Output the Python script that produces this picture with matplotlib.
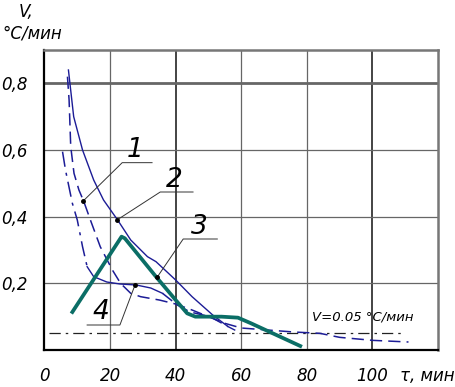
import matplotlib.pyplot as plt

# curve 1 (dashed)
c1_t = [7, 7.5, 8, 9, 10.5, 12, 14, 17, 20.7, 23.2, 26.3, 29.3, 35, 40, 45, 50, 55, 60, 68, 76, 84, 90, 100, 111]
c1_v = [0.82, 0.75, 0.61, 0.53, 0.48, 0.445, 0.39, 0.31, 0.24, 0.2, 0.17, 0.16, 0.15, 0.138, 0.12, 0.1, 0.08, 0.066, 0.06, 0.054, 0.05, 0.038, 0.029, 0.024]

# curve 2 (solid thin)
c2_t = [7.3, 8.9, 11.6, 15, 18, 22.3, 26.3, 31.4, 34, 40, 45, 51.3, 56, 58]
c2_v = [0.84, 0.70, 0.6, 0.51, 0.45, 0.39, 0.33, 0.28, 0.265, 0.21, 0.16, 0.105, 0.07, 0.06]

# curve 3 (thick)
c3_t = [8.5, 23.5, 24.5, 34, 40, 43.5, 46, 54, 59, 63, 78]
c3_v = [0.114, 0.34, 0.335, 0.22, 0.15, 0.11, 0.1, 0.1, 0.097, 0.08, 0.012]

# curve 4
c4_t = [5.5, 6.4, 8.5, 10, 11.6, 13, 15, 19, 23, 28, 32.4, 36, 40.5, 44.4, 50.5, 56]
c4_v = [0.595, 0.54, 0.44, 0.39, 0.31, 0.25, 0.22, 0.204, 0.198, 0.195, 0.186, 0.17, 0.135, 0.114, 0.1, 0.07]

v_limit = 0.05

blue = '#1c1c96'
teal = '#0b6e66'

fig = plt.figure(figsize=(4.55, 3.87), dpi=100)
ax = fig.add_axes([0.0978, 0.0956, 0.8648, 0.7752])

ax.set_xlim(0, 120)
ax.set_ylim(0, 0.9)

# grid
for x in [20, 60, 80]:
    ax.axvline(x, color='#666666', lw=0.9, zorder=1)
for x in [40, 100]:
    ax.axvline(x, color='#111111', lw=1.1, zorder=1)
for y in [0.2, 0.4, 0.6]:
    ax.axhline(y, color='#666666', lw=0.9, zorder=1)
ax.axhline(0.8, color='#666666', lw=2.0, zorder=1)

for s in ['left', 'bottom']:
    ax.spines[s].set_color('black')
    ax.spines[s].set_linewidth(1.6)
for s in ['top', 'right']:
    ax.spines[s].set_color('#777777')
    ax.spines[s].set_linewidth(1.8)

ax.plot([1.3, 110], [v_limit, v_limit], color='#222222', lw=0.9,
        dashes=(9, 4, 2, 4), zorder=2)
ax.text(97, 0.1, 'V=0.05 °C/мин', fontsize=9.5, style='italic', ha='center', va='center')

ax.plot(c1_t, c1_v, color=blue, lw=1.1, dashes=(8, 4), zorder=3)
ax.plot(c2_t, c2_v, color=blue, lw=1.0, zorder=3)
# curve 4: dash-dot at top, solid in the middle, dashed at the end
ax.plot(c4_t[:6], c4_v[:6], color=blue, lw=1.1, dashes=(10, 4, 2, 4), zorder=3)
ax.plot(c4_t[5:12], c4_v[5:12], color=blue, lw=1.0, zorder=3)
ax.plot(c4_t[11:], c4_v[11:], color=blue, lw=1.1, dashes=(8, 4), zorder=3)
ax.plot(c3_t, c3_v, color=teal, lw=2.7, solid_joinstyle='round', zorder=4)

# leader lines with numbers
labels = [
    ('1', (11.8, 0.447), (23.7, 0.562), (32.8, 0.562), (27.5, 0.6)),
    ('2', (22.1, 0.39), (35.3, 0.474), (45.3, 0.474), (39.5, 0.51)),
    ('3', (34.4, 0.219), (42.3, 0.333), (52.7, 0.333), (47.2, 0.37)),
    ('4', (27.6, 0.195), (23.0, 0.075), (13.0, 0.075), (17.2, 0.114)),
]
for txt, p, e, u, tp in labels:
    ax.plot([p[0], e[0], u[0]], [p[1], e[1], u[1]], color='#333333', lw=0.7, zorder=5)
    ax.plot(*p, 'o', color='black', ms=2.5, zorder=6)
    ax.text(tp[0], tp[1], txt, fontsize=19, style='italic', ha='center', va='center')

ax.set_xticks([0, 20, 40, 60, 80, 100])
ax.set_xticklabels(['0', '20', '40', '60', '80', '100'])
ax.set_yticks([0.2, 0.4, 0.6, 0.8])
ax.set_yticklabels(['0,2', '0,4', '0,6', '0,8'])
ax.tick_params(length=0, labelsize=12, pad=12)
for lab in ax.get_xticklabels() + ax.get_yticklabels():
    lab.set_style('italic')

fig.text(427 / 455, 1 - 376 / 387, 'τ, мин', fontsize=12, style='italic', ha='center', va='center')
fig.text(26 / 455, 1 - 12 / 387, 'V,', fontsize=12, style='italic', ha='center', va='center')
fig.text(32 / 455, 1 - 33 / 387, '°C/мин', fontsize=12, style='italic', ha='center', va='center')

fig.savefig('out.png', dpi=100)
